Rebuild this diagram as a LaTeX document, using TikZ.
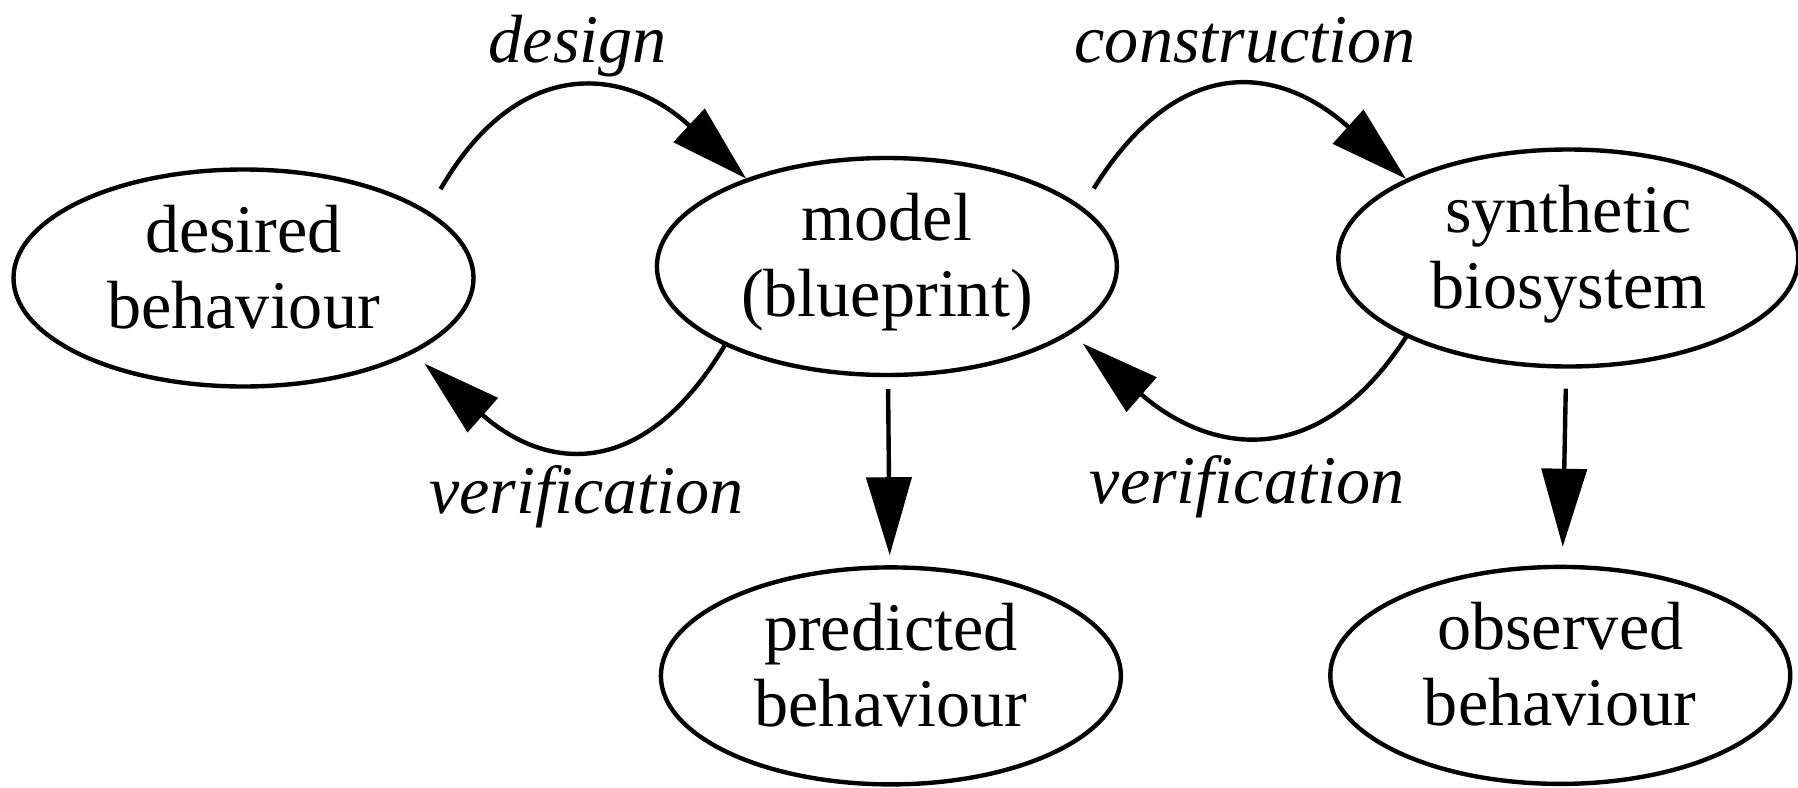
\documentclass[tikz,border=0pt]{standalone}
\usepackage{fontspec}
\setmainfont{Liberation Serif}
\usetikzlibrary{shapes.geometric,arrows.meta,positioning}

\begin{document}
\begin{tikzpicture}[
    node distance=1.8cm,
    state/.style={ellipse, draw, line width=1.25pt, minimum width=4.6cm, minimum height=2.17cm, inner sep=0pt, align=center,
        font=\fontsize{19.4}{21.6}\selectfont, execute at begin node=\strut, execute at end node=\strut},
    arrow/.style={-{Triangle[length=7.8mm, width=4.5mm]}, line width=1.25pt},
    lbl/.style={font=\fontsize{19.4}{21.6}\selectfont\itshape, inner sep=0pt, anchor=base}
]
\useasboundingbox (0,0) rectangle (17.98,7.87);

\node[state] (desired) at (2.435,5.09) {desired\\behaviour};
\node[state, right=1.79cm of desired, yshift=1.15mm] (model) {model\\(blueprint)};
\node[state, right=2.17cm of model, yshift=0.85mm] (synth) {synthetic\\biosystem};
\node[state, below=1.88cm of model, xshift=0.4mm] (predicted) {predicted\\behaviour};
\node[state, below=1.96cm of synth, xshift=-0.8mm] (observed) {observed\\behaviour};

% design / verification loop
\draw[arrow, shorten <=2.5mm] (desired.20) .. controls +(60:1.85) and +(137:1.6) .. (model.148)
    node[lbl, midway, yshift=3.1mm] {design};
\draw[arrow, shorten >=1.5mm] (model.206) .. controls +(239:1.6) and +(-41.5:1.76) .. (desired.336)
    node[lbl, midway, xshift=-0.1mm, yshift=-6.9mm] {verification};

% construction / verification loop
\draw[arrow, shorten <=2.15mm] (model.17) .. controls +(58:1.87) and +(138:1.66) .. (synth.154)
    node[lbl, midway, xshift=1mm, yshift=2.9mm] {construction};
\draw[arrow, shorten >=1.5mm] (synth.206) .. controls +(237:1.65) and +(-41:1.8) .. (model.340)
    node[lbl, midway, xshift=-0.9mm, yshift=-7.2mm] {verification};

\draw[arrow, shorten <=1.2mm, shorten >=1mm] (model) -- (predicted);
\draw[arrow, shorten <=2mm, shorten >=1.8mm] (synth) -- (observed);
\end{tikzpicture}
\end{document}
